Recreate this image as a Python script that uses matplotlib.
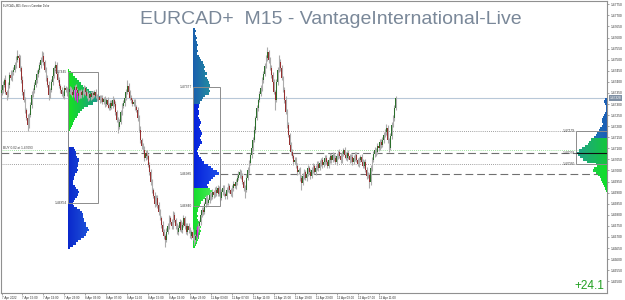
import numpy as np
import matplotlib
matplotlib.use('Agg')
import matplotlib.pyplot as plt
from matplotlib.colors import to_rgb
from matplotlib.patches import Rectangle
from matplotlib.transforms import blended_transform_factory

plt.rcParams['font.family'] = ['Liberation Sans', 'DejaVu Sans']

# prices are kept in points (0.00001) above BASE
BASE = 1.46
PT = 0.00001
first_open = 1350
closes_pts = [
    1364, 1386, 1409, 1355, 1341, 1386, 1432, 1418, 1445, 1454,
    1477, 1500, 1518, 1509, 1463, 1409, 1355, 1319, 1274, 1238,
    1206, 1251, 1296, 1341, 1364, 1386, 1409, 1436, 1454, 1477,
    1500, 1518, 1491, 1454, 1418, 1386, 1341, 1364, 1400, 1427,
    1463, 1477, 1436, 1409, 1382, 1364, 1346, 1337, 1373, 1364,
    1350,
    1355, 1368, 1355, 1341, 1364, 1377, 1364, 1350, 1337, 1355,
    1341, 1359, 1373, 1355, 1337, 1328, 1346, 1332, 1350, 1341,
    1355, 1337, 1323, 1332, 1319, 1328, 1310, 1323, 1301, 1319,
    1296, 1283, 1305, 1292, 1319, 1301, 1265, 1228, 1197, 1219,
    1265, 1292, 1305, 1328, 1355, 1382, 1355, 1328, 1319, 1301,
    1310, 1287, 1274,
    1238, 1183, 1138, 1111, 1093, 1057, 1079, 1066, 1025, 994,
    948, 913, 885, 849, 876, 845, 813, 786, 755, 723,
    705, 687, 723,
    750, 786, 768, 750, 800, 777, 750, 723, 741, 768,
    732, 755, 786, 750, 723, 750, 732, 705, 723, 696,
    687, 705, 732, 750, 768,
    800, 822, 813, 849, 876, 854, 867, 890, 881, 903,
    890, 913, 899, 922, 894, 876, 903, 922, 894, 885,
    913, 930, 913, 894, 922, 940, 930, 948, 967, 980,
    994, 976, 948, 922, 913,
    967, 1003, 1034, 1070, 1102, 1138, 1183, 1237, 1283, 1319,
    1346, 1373, 1409, 1436, 1472, 1508, 1535, 1500, 1463, 1432,
    1400, 1355, 1319, 1400, 1454, 1491, 1463, 1418, 1364, 1319,
    1265,
    1206, 1161, 1116, 1084, 1066, 1039, 1048, 1021, 994, 1003, 967, 944,
    976, 994, 967, 985, 1012, 994, 976, 1003, 1021, 994,
    1012, 1030, 1012, 1034, 1048, 1025, 1039, 1057, 1039, 1021,
    1048, 1066, 1048, 1070, 1057, 1039, 1066, 1084, 1066, 1048,
    1075, 1093, 1070, 1057, 1079, 1066, 1048, 1061, 1039, 1057,
    1070, 1048, 1030, 1048, 1061, 1039, 1021, 1039, 1003, 976,
    980, 948,
    1012, 1048, 1075, 1093, 1084, 1111, 1102, 1129, 1116, 1138,
    1161, 1174, 1192, 1138, 1102, 1156, 1206, 1237, 1283, 1328,
]
wick_hi = [
    12, 18, 10, 22, 9, 14, 11, 20, 8, 15, 12, 16, 27, 10, 14, 9, 18, 11, 13, 8,
    15, 10, 12, 18, 9, 14, 11, 16, 10, 13, 12, 20, 15, 9, 13, 11, 17, 10, 12, 14,
    9, 16, 12, 10, 14, 8, 13, 11, 15, 9, 12, 10, 14, 9, 11, 13, 8, 12, 10, 14,
    9, 12, 11, 15, 10, 8, 13, 9, 12, 10, 11, 9, 14, 10, 12, 8, 13, 11, 9, 12,
    10, 14, 9, 12, 11, 15, 10, 13, 9, 14, 12, 10, 13, 11, 16, 12, 27, 14, 10, 12,
    9, 13, 11, 10, 14, 12, 16, 10, 13, 18, 12, 15, 10, 14, 11, 13, 9, 16, 12, 14,
    11, 13, 10, 15, 12, 9, 18, 11, 14, 10, 13, 16, 12, 10, 14, 11, 15, 9, 13, 12,
    10, 14, 12, 11, 15, 10, 13, 12, 9, 14, 12, 10, 15, 11, 13, 9, 14, 12, 10, 13,
    11, 14, 10, 12, 16, 13, 9, 12, 14, 11, 13, 10, 12, 15, 11, 9, 14, 12, 10, 13,
    11, 16, 12, 10, 14, 9, 12, 15, 11, 13, 10, 14, 12, 16, 11, 13, 10, 15, 12, 14,
    11, 13, 12, 23, 10, 14, 12, 11, 15, 9, 13, 12, 31, 11, 14, 10, 12, 15, 11, 13,
    10, 14, 12, 9, 13, 11, 15, 10, 12, 14, 11, 13, 10, 12, 14, 9, 13, 11, 15, 10,
    12, 14, 11, 13, 10, 12, 15, 11, 13, 9, 14, 12, 10, 13, 11, 15, 12, 9, 14, 11,
    13, 10, 12, 14, 11, 13, 10, 12, 15, 11, 12, 14, 10, 13, 11, 12, 15, 10, 13, 11,
    12, 10, 14, 11, 13, 12, 10, 15, 11, 13, 12, 14, 11, 13, 16, 12, 10, 14, 12, 15,
    13, 10,
]
wick_lo = [
    10, 14, 9, 12, 22, 11, 13, 10, 15, 12, 9, 13, 11, 10, 14, 12, 16, 10, 13, 11,
    27, 12, 10, 14, 11, 13, 9, 12, 15, 10, 13, 11, 14, 10, 12, 9, 22, 13, 11, 15,
    10, 12, 14, 11, 9, 13, 12, 10, 14, 11, 13, 10, 12, 15, 11, 9, 14, 12, 10, 13,
    11, 14, 10, 12, 13, 9, 15, 11, 12, 10, 14, 11, 12, 10, 13, 15, 9, 12, 11, 14,
    10, 13, 12, 11, 15, 9, 12, 14, 10, 27, 12, 11, 14, 10, 13, 12, 9, 15, 11, 13,
    12, 10, 14, 11, 13, 9, 12, 15, 10, 14, 11, 13, 10, 16, 12, 14, 11, 13, 10, 15,
    12, 11, 14, 10, 13, 32, 12, 11, 15, 10, 13, 12, 10, 14, 11, 15, 12, 10, 13, 11,
    14, 10, 12, 13, 11, 15, 12, 23, 10, 13, 11, 14, 12, 10, 13, 11, 15, 12, 10, 14,
    12, 10, 13, 11, 15, 12, 10, 14, 11, 13, 10, 12, 14, 11, 13, 10, 12, 15, 11, 13,
    12, 10, 14, 13, 11, 15, 37, 12, 10, 13, 11, 14, 12, 10, 13, 11, 15, 12, 10, 14,
    13, 11, 10, 12, 14, 11, 13, 10, 12, 45, 12, 14, 11, 13, 10, 12, 15, 11, 13, 10,
    12, 14, 11, 13, 10, 12, 14, 11, 13, 31, 11, 13, 10, 14, 12, 11, 15, 10, 13, 12,
    14, 11, 13, 10, 12, 15, 11, 13, 10, 12, 11, 13, 12, 10, 14, 11, 13, 12, 10, 15,
    12, 10, 14, 11, 13, 12, 15, 10, 12, 11, 13, 11, 12, 14, 10, 13, 11, 12, 10, 14,
    11, 26, 12, 14, 10, 13, 18, 11, 12, 10, 13, 11, 12, 10, 14, 12, 18, 11, 13, 10,
    12, 9,
]

time_ticks = list(range(0, 289, 16))
time_labels = ["7 Apr 2022", "7 Apr 15:00", "7 Apr 19:00", "7 Apr 23:00", "8 Apr 03:00",
               "8 Apr 07:00", "8 Apr 11:00", "8 Apr 15:00", "8 Apr 19:00", "8 Apr 23:00",
               "11 Apr 03:00", "11 Apr 07:00", "11 Apr 11:00", "11 Apr 15:00", "11 Apr 19:00",
               "11 Apr 23:00", "12 Apr 03:00", "12 Apr 07:00", "12 Apr 11:00"]
price_ticks = [1.4650 + 0.0005 * k for k in range(26)]

# volume profiles (rows every 0.0001 from the top price down)
STEP = 0.0001
prof1_top = 1.4745
prof1_vol = [1, 3, 5, 7, 9, 11, 13, 15, 18, 20,
             24, 28, 31, 32, 28, 24, 19, 16, 14, 12,
             10, 9, 7, 6, 5, 4, 3, 2, 1,
             1, 1, 1, 1, 1, 1,
             6, 7, 8, 8, 9, 11, 11, 10, 10, 9,
             10, 9, 7, 6, 6, 5, 5, 7, 8, 10,
             11, 10, 9, 7, 6, 5, 6, 9, 12, 14,
             15, 15, 16, 16, 17, 17, 19, 20, 18, 17,
             16, 13, 10, 8, 5, 2]
prof2_top = 1.47635
prof2_vol = [2, 3, 2, 3, 4, 3, 4, 5, 4, 4,
             5, 4, 6, 7, 8, 10, 11, 12, 11, 12,
             13, 12, 13, 14, 15, 16, 16, 15, 16, 15,
             12, 10, 9, 7, 6, 6, 5, 6, 6, 5,
             6, 7, 8, 7, 6, 7, 8, 9, 8, 7,
             8, 9, 7, 6, 5, 4, 5, 6, 8, 9,
             11, 14, 17, 19, 23, 25, 21, 19, 17, 15,
             13, 14, 16, 18, 17, 14, 12, 10, 8, 7,
             6, 5, 5, 4, 5, 4, 5, 6, 7, 8,
             7, 8, 7, 6, 6, 5, 4, 3, 2]
prof3_top = 1.47328
prof3_vol = [1, 3, 4, 3, 2, 2, 2, 3, 4, 5,
             6, 6, 5, 6, 8, 9, 11, 12, 14, 16,
             18, 19, 22, 25, 28, 31, 29, 27, 24, 20,
             12, 11, 14, 15, 12, 10, 8, 7, 6, 5,
             4, 3, 2, 1]

# (bar from, bar to, upper price, lower price)
box1 = (51, 74, 1.47445, 1.46854)
box2 = (146.5, 167, 1.47377, 1.46840)
box3 = (439, 462.5, 1.47179, 1.47030)
prof1_levels = [1.47445, 1.46854]
prof2_levels = [1.47377, 1.46985, 1.46840]
prof3_levels = [1.47179, 1.47078, 1.47030]
prof2_poc = 1.46985
buy_price = 1.47093
marks = [(56.5, 1.4732, 1.4737), (58.0, 1.4731, 1.4735), (149.5, 1.4670, 1.4675)]
profit = "+24.1"

VOL2BAR = 1 / 1.309
XLIM = (-0.4, 462.5)
YLIM = (1.46447, 1.47765)


def zone_for(p, zones):
    for lim, near, far in zones:
        if p >= lim:
            return np.array(to_rgb(near)), np.array(to_rgb(far))
    return np.array(to_rgb(zones[-1][1])), np.array(to_rgb(zones[-1][2]))


def draw_profile(ax, top, vols, anchor, zones, to_left=False):
    vols = np.asarray(vols, float)
    n = len(vols)
    prices = top - STEP * np.arange(n)
    vmax = vols.max()
    res = 4
    ncol = int(np.ceil(vmax * res))
    c = (np.arange(ncol) + 0.5) / res
    t = c / vmax
    img = np.zeros((n, ncol, 4))
    for r in range(n):
        near, far = zone_for(prices[r], zones)
        img[r, :, :3] = np.outer(1 - t, near) + np.outer(t, far)
        img[r, :, 3] = (c < vols[r]).astype(float)
    w = vmax * VOL2BAR
    x1 = anchor - w if to_left else anchor + w
    ax.imshow(img, extent=(anchor, x1, prices[-1] - STEP / 2, prices[0] + STEP / 2),
              origin='upper', aspect='auto', interpolation='nearest', zorder=1.5)


fig = plt.figure(figsize=(6.25, 3.0), dpi=100)
ax = fig.add_axes([1 / 625, 7 / 300, 606 / 625, 292 / 300])

closes = BASE + np.array(closes_pts) * PT
opens = np.concatenate([[BASE + first_open * PT], closes[:-1]])
highs = np.maximum(opens, closes) + np.array(wick_hi) * PT
lows = np.minimum(opens, closes) - np.array(wick_lo) * PT
x = np.arange(len(closes))
up = closes >= opens
body = np.where(np.abs(closes - opens) < 2 * PT, 2 * PT, closes - opens)

# volume profiles
draw_profile(ax, prof1_top, prof1_vol, box1[0],
             [(1.4717, '#16e41e', '#1a8f96'), (-1, '#0a28cc', '#2a6ee0')])
draw_profile(ax, prof2_top, prof2_vol, box2[0],
             [(1.4730, '#1b5fae', '#27a39a'), (1.4692, '#0420dc', '#2050e8'),
              (-1, '#14dc2c', '#58f060')])
draw_profile(ax, prof3_top, prof3_vol, XLIM[1],
             [(1.4714, '#1a5cb8', '#2090a8'), (1.4702, '#12c83a', '#22a08c'),
              (-1, '#10e028', '#28c060')], to_left=True)

# candles
ax.vlines(x, lows, highs, color='#acacac', lw=0.8, zorder=2)
ax.bar(x[up], body[up], bottom=opens[up], width=0.6, color='#2b6e2b', lw=0, zorder=3)
ax.bar(x[~up], body[~up], bottom=opens[~up], width=0.6, color='#963030', lw=0, zorder=3)

for bx, lo, hi in marks:
    ax.vlines(bx, lo, hi, color='#e020e0', lw=0.9, zorder=4)

# boxes
for b in (box1, box2, box3):
    ax.add_patch(Rectangle((b[0], b[3]), b[1] - b[0], b[2] - b[3], fill=False,
                           ec='#8c8c8c', lw=0.7, zorder=4))

# levels
ax.axhline(closes[-1], color='#b8c8d8', lw=0.8, zorder=1)
ax.axhline(buy_price, color='#7fdc7f', lw=0.6, ls=(0, (1, 1.5)), zorder=1)
ax.hlines([prof3_levels[0], prof3_levels[2]], XLIM[0], box3[0], color='#808080',
          lw=0.6, linestyles=(0, (1, 1.5)), zorder=1)
ax.hlines(prof3_levels[1], XLIM[0], box3[0], color='#707070', lw=0.8,
          linestyles=(0, (7, 3.5)), zorder=1)
ax.hlines(prof3_levels[1], box3[0], XLIM[1], color='#101010', lw=0.8, zorder=4)
ax.hlines(prof2_poc, box2[1], XLIM[1], color='#707070', lw=0.8,
          linestyles=(0, (7, 3.5)), zorder=1)

lab = dict(fontsize=2.4, color='#404040', ha='right', va='center', zorder=5)
for p in prof1_levels:
    ax.text(box1[0] - 0.8, p, f'{p:.5f}', **lab)
for p in prof2_levels:
    ax.text(box2[0] - 0.8, p, f'{p:.5f}', **lab)
for p in prof3_levels:
    ax.text(box3[0] - 0.8, p, f'{p:.5f}', **lab)
ax.text(1.5, buy_price, f'BUY 0.02 at {buy_price:.5f}', fontsize=2.3, color='#404040',
        ha='left', va='bottom')

# texts
ax.text(0.003, 0.993, 'EURCAD+,M15: Euro vs Canadian Dollar', transform=ax.transAxes,
        fontsize=1.8, color='#303030', ha='left', va='top')
ax.text(0.5446, 0.935, 'EURCAD+  M15 - VantageInternational-Live', transform=ax.transAxes,
        fontsize=14, color='#7a8899', ha='center', va='center')
ax.text(0.995, 0.024, profit, transform=ax.transAxes, fontsize=8.5, color='#22a022',
        ha='right', va='center')

tr = blended_transform_factory(ax.transAxes, ax.transData)
ax.text(1.004, closes[-1], f'{closes[-1]:.5f}', transform=tr, fontsize=2.3, color='white',
        ha='left', va='center', clip_on=False,
        bbox=dict(boxstyle='square,pad=0.25', fc='#7f90a4', ec='none'))

# axes
ax.set_xlim(*XLIM)
ax.set_ylim(*YLIM)
ax.yaxis.tick_right()
ax.set_yticks(price_ticks)
ax.set_yticklabels([f'{p:.5f}' for p in price_ticks])
ax.set_xticks(time_ticks)
ax.set_xticklabels(time_labels, ha='left')
ax.tick_params(axis='y', direction='out', length=1.5, width=0.5, pad=1, labelsize=2.3,
               color='#808080', labelcolor='#303030')
ax.tick_params(axis='x', direction='out', length=1.5, width=0.5, pad=0.5, labelsize=2.2,
               color='#808080', labelcolor='#303030')
for s in ax.spines.values():
    s.set_color('#909090')
    s.set_linewidth(0.8)

fig.savefig('out.png', dpi=100)
